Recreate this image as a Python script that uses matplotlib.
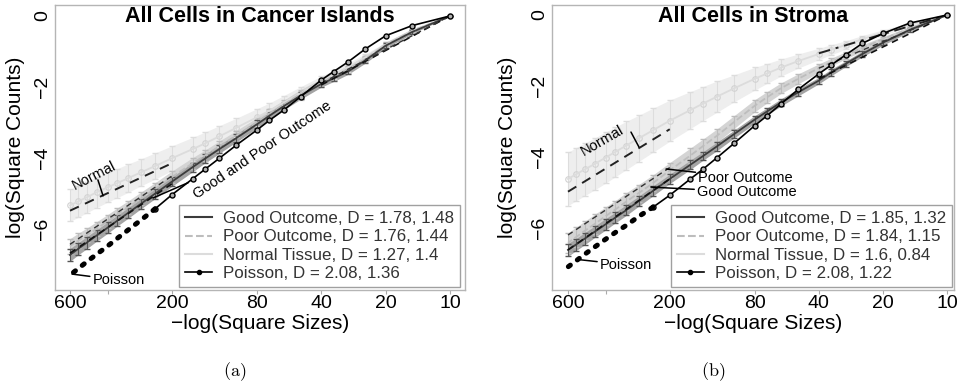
import matplotlib
matplotlib.use('Agg')
import numpy as np
import matplotlib.pyplot as plt
from matplotlib.lines import Line2D

plt.rcParams['font.family'] = ['Liberation Sans', 'DejaVu Sans']
plt.rcParams['mathtext.fontset'] = 'cm'

# square sizes (x axis is -log(size))
SIZES = [10, 15, 20, 25, 30, 35, 40, 50, 60, 70, 80, 100, 120, 140, 160,
         200, 240, 280, 320, 360, 400, 450, 500, 550, 600]
XTICKS = [600, 400, 200, 80, 40, 20, 10]
XTICK_LABELS = ['600', '', '200', '80', '40', '20', '10']
YTICKS = [0, -2, -4, -6]

# fitted ranges (large sizes, small sizes)
FIT_LEFT = [600, 200]
FIT_RIGHT = [40, 10]

# ---- (a) all cells in cancer islands ----
A_TITLE = 'All Cells in Cancer Islands'
A_POISSON = [0.0, -0.27, -0.56, -0.94, -1.30, -1.57, -1.81, -2.28, -2.66, -2.95, -3.22,
             -3.65, -4.02, -4.33, -4.60, -5.05, -5.45, -5.77, -6.04, -6.28, -6.50,
             -6.73, -6.94, -7.14, -7.32]
A_GOOD = [0.0, -0.45, -0.84, -1.26, -1.57, -1.76, -1.92, -2.25, -2.55, -2.82, -3.06,
          -3.45, -3.76, -4.03, -4.27, -4.68, -5.02, -5.31, -5.56, -5.78, -5.98,
          -6.20, -6.40, -6.58, -6.75]
A_GOOD_ERR = [0.0, 0.05, 0.07, 0.08, 0.08, 0.09, 0.09, 0.10, 0.10, 0.10, 0.11, 0.11,
              0.12, 0.12, 0.13, 0.13, 0.14, 0.14, 0.15, 0.15, 0.16, 0.16, 0.17, 0.17, 0.18]
A_POOR = [0.0, -0.42, -0.82, -1.22, -1.50, -1.70, -1.88, -2.20, -2.50, -2.76, -3.00,
          -3.38, -3.68, -3.94, -4.16, -4.55, -4.88, -5.16, -5.40, -5.61, -5.80,
          -6.01, -6.19, -6.35, -6.50]
A_POOR_ERR = [0.0, 0.06, 0.08, 0.09, 0.10, 0.10, 0.11, 0.12, 0.12, 0.13, 0.13, 0.14,
              0.15, 0.15, 0.16, 0.17, 0.17, 0.18, 0.18, 0.19, 0.19, 0.20, 0.20, 0.21, 0.21]
A_NORMAL = [0.0, -0.42, -0.82, -1.18, -1.45, -1.66, -1.85, -2.18, -2.45, -2.68, -2.86,
            -3.16, -3.40, -3.60, -3.76, -4.02, -4.24, -4.42, -4.58, -4.72, -4.84,
            -4.98, -5.12, -5.24, -5.35]
A_NORMAL_ERR = [0.0, 0.06, 0.08, 0.10, 0.12, 0.13, 0.15, 0.18, 0.20, 0.22, 0.24, 0.27,
                0.30, 0.32, 0.33, 0.35, 0.37, 0.38, 0.40, 0.41, 0.42, 0.43, 0.44, 0.45, 0.45]
A_NORMAL_FIT = [-5.50, -4.16]
A_GOOD_FIT = [-6.70, -4.74, -1.95, 0.0]
A_POOR_FIT = [-6.45, -4.52, -1.90, 0.0]
A_LEGEND = ['Good Outcome, D = 1.78, 1.48', 'Poor Outcome, D = 1.76, 1.44',
            'Normal Tissue, D = 1.27, 1.4', 'Poisson, D = 2.08, 1.36']

# ---- (b) all cells in stroma ----
B_TITLE = 'All Cells in Stroma'
B_POISSON = [0.0, -0.23, -0.52, -0.80, -1.13, -1.41, -1.66, -2.10, -2.50, -2.84, -3.12,
             -3.62, -4.02, -4.35, -4.62, -5.08, -5.42, -5.68, -5.93, -6.13, -6.32,
             -6.54, -6.74, -6.93, -7.10]
B_GOOD = [0.0, -0.42, -0.78, -1.10, -1.38, -1.62, -1.85, -2.18, -2.46, -2.72, -2.95,
          -3.36, -3.70, -3.98, -4.22, -4.62, -4.96, -5.25, -5.50, -5.71, -5.90,
          -6.11, -6.30, -6.47, -6.62]
B_GOOD_ERR = [0.0, 0.05, 0.07, 0.08, 0.08, 0.09, 0.09, 0.10, 0.10, 0.10, 0.11, 0.11,
              0.12, 0.12, 0.13, 0.13, 0.14, 0.14, 0.15, 0.15, 0.16, 0.16, 0.17, 0.17, 0.18]
B_POOR = [0.0, -0.38, -0.68, -0.93, -1.14, -1.33, -1.50, -1.80, -2.06, -2.32, -2.56,
          -3.02, -3.40, -3.70, -3.96, -4.38, -4.74, -5.02, -5.26, -5.48, -5.67,
          -5.89, -6.08, -6.26, -6.42]
B_POOR_ERR = [0.0, 0.05, 0.07, 0.09, 0.10, 0.11, 0.12, 0.14, 0.15, 0.16, 0.17, 0.18,
              0.19, 0.20, 0.21, 0.22, 0.23, 0.24, 0.25, 0.25, 0.26, 0.27, 0.27, 0.28, 0.28]
B_NORMAL = [0.0, -0.27, -0.50, -0.68, -0.85, -0.98, -1.10, -1.30, -1.48, -1.65, -1.80,
            -2.07, -2.30, -2.50, -2.68, -2.98, -3.25, -3.48, -3.68, -3.86, -4.02,
            -4.20, -4.35, -4.49, -4.62]
B_NORMAL_ERR = [0.0, 0.05, 0.08, 0.10, 0.12, 0.14, 0.16, 0.20, 0.24, 0.28, 0.32, 0.38,
                0.44, 0.48, 0.52, 0.58, 0.62, 0.65, 0.68, 0.70, 0.72, 0.73, 0.74, 0.75, 0.75]
B_NORMAL_FIT = [-4.98, -3.22, -1.08, 0.0]
B_GOOD_FIT = [-6.62, -4.62, -1.80, 0.0]
B_POOR_FIT = [-6.20, -4.30, -1.50, 0.0]
B_LEGEND = ['Good Outcome, D = 1.85, 1.32', 'Poor Outcome, D = 1.84, 1.15',
            'Normal Tissue, D = 1.6, 0.84', 'Poisson, D = 2.08, 1.22']

GOOD_C = '#3c3c3c'
POOR_C = '#bdbdbd'
NORMAL_C = '#dcdcdc'


def draw_series(ax, y, err, band, line, ls, capc):
    s = np.array(SIZES)
    y = np.array(y)
    e = np.array(err)
    ax.fill_between(s, y - e, y + e, color=band, lw=0, zorder=1)
    ax.errorbar(s, y, yerr=e, color=line, ls=ls, lw=1.3, ecolor=capc,
                elinewidth=0.8, capsize=2.5, zorder=2)


def draw_panel(ax, title, normal, normal_err, poor, poor_err, good, good_err,
               poisson, normal_fit, good_fit, poor_fit):
    s = np.array(SIZES)
    draw_series(ax, normal, normal_err, '#eeeeee', NORMAL_C, '-', '#dddddd')
    ax.plot(s, normal, 'o', ms=4, mfc='none', mec='#d2d2d2', mew=0.8, zorder=2)
    draw_series(ax, poor, poor_err, '#d4d4d4', POOR_C, '--', '#bcbcbc')
    draw_series(ax, good, good_err, '#a4a4a4', GOOD_C, '-', '#555555')

    # fitted lines
    ax.plot(FIT_LEFT, normal_fit[:2], color='#222222', lw=1.4, dashes=(5, 3.5), zorder=4)
    if len(normal_fit) > 2:
        ax.plot(FIT_RIGHT, normal_fit[2:], color='#222222', lw=1.4,
                dashes=(6, 3, 1.5, 3), zorder=4)
    ax.plot(FIT_LEFT, good_fit[:2], color='#111111', lw=1.2, dashes=(4, 3), zorder=4)
    ax.plot(FIT_RIGHT, good_fit[2:], color='#111111', lw=1.2, dashes=(4, 3), zorder=4)
    ax.plot(FIT_LEFT, poor_fit[:2], color='#333333', lw=1.0, dashes=(4, 3), zorder=4)
    ax.plot(FIT_RIGHT, poor_fit[2:], color='#333333', lw=1.0, dashes=(4, 3), zorder=4)

    # poisson reference: line with circles, heavy blobs at large sizes
    p = np.array(poisson)
    big = s >= 240
    small = s <= 240
    ax.plot(s[small], p[small], color='k', lw=1.2, zorder=5)
    ax.plot(s[small], p[small], 'o', ms=3.6, mfc='#b0b0b0', mec='k', mew=1.0, zorder=6)
    ax.plot(s[big], p[big], color='k', lw=3.6, dashes=(0.5, 1.74),
            dash_capstyle='round', zorder=6)

    ax.set_xscale('log')
    ax.set_xticks(XTICKS)
    ax.set_xticklabels(XTICK_LABELS)
    ax.minorticks_off()
    ax.set_yticks(YTICKS)
    ax.set_yticklabels([str(v).replace('-', '\u2212') for v in YTICKS],
                       rotation=90, va='center')
    ax.tick_params(axis='x', length=3, color='#aaaaaa', labelsize=14, pad=0.5)
    ax.tick_params(axis='y', length=0, labelsize=14, pad=3)
    for sp in ax.spines.values():
        sp.set_color('#b5b5b5')
        sp.set_linewidth(1)

    ax.set_xlabel('\u2212log(Square Sizes)', fontsize=15)
    ax.set_ylabel('log(Square Counts)', fontsize=15)
    ax.text(0.5, 0.958, title, transform=ax.transAxes, ha='center', va='center',
            fontsize=15.5, fontweight='bold', zorder=10)

    return [Line2D([], [], color=GOOD_C, lw=1.5),
            Line2D([], [], color=POOR_C, lw=1.5, ls='--'),
            Line2D([], [], color=NORMAL_C, lw=1.5),
            Line2D([], [], color='k', lw=1.2, marker='o', ms=3)]


def add_legend(ax, handles, labels, xanchor):
    leg = ax.legend(handles, labels, loc='lower right', bbox_to_anchor=(xanchor, 0.01),
                    borderaxespad=0, fontsize=12.2, handlelength=1.6,
                    handletextpad=0.65, labelspacing=0.2, borderpad=0.35,
                    fancybox=False, framealpha=1, edgecolor='#a0a0a0')
    leg.set_zorder(20)
    for t in leg.get_texts():
        t.set_color('#333333')


fig = plt.figure(figsize=(9.64, 3.86), dpi=100)
ax1 = fig.add_axes([55 / 964, 1 - 290 / 386, 410 / 964, 285 / 386])
ax2 = fig.add_axes([552 / 964, 1 - 290 / 386, 402 / 964, 285 / 386])

h = draw_panel(ax1, A_TITLE, A_NORMAL, A_NORMAL_ERR, A_POOR, A_POOR_ERR, A_GOOD,
               A_GOOD_ERR, A_POISSON, A_NORMAL_FIT, A_GOOD_FIT, A_POOR_FIT)
ax1.set_xlim(705, 8.5)
ax1.set_ylim(-7.74, 0.31)
add_legend(ax1, h, A_LEGEND, 0.988)
ax1.yaxis.set_label_coords(-0.073, 0.5)
ax1.xaxis.set_label_coords(0.5, -0.083)

h = draw_panel(ax2, B_TITLE, B_NORMAL, B_NORMAL_ERR, B_POOR, B_POOR_ERR, B_GOOD,
               B_GOOD_ERR, B_POISSON, B_NORMAL_FIT, B_GOOD_FIT, B_POOR_FIT)
ax2.set_xlim(713, 9.3)
ax2.set_ylim(-7.75, 0.28)
add_legend(ax2, h, B_LEGEND, 0.995)
ax2.yaxis.set_label_coords(-0.087, 0.5)
ax2.xaxis.set_label_coords(0.5, -0.083)

# annotations
arrow = dict(arrowstyle='-', color='k', lw=1.1, shrinkA=0, shrinkB=0)
ax1.annotate('', xy=(420, -5.08), xytext=(444, -4.63), arrowprops=arrow, zorder=12)
ax1.text(463, -4.52, 'Normal', fontsize=10.5, rotation=27, ha='center', va='center',
         zorder=12)
ax1.annotate('Good and Poor Outcome', xy=(245, -5.14), xytext=(156, -5.08),
             fontsize=10.5, rotation=34, rotation_mode='anchor', ha='left',
             va='center', arrowprops=arrow, zorder=12)
ax1.annotate('Poisson', xy=(587, -7.29), xytext=(470, -7.46), fontsize=10.5,
             ha='left', va='center', arrowprops=arrow, zorder=12)

ax2.annotate('', xy=(279, -3.72), xytext=(304, -3.30), arrowprops=arrow, zorder=12)
ax2.text(415, -3.55, 'Normal', fontsize=10.5, rotation=30, ha='center', va='center',
         zorder=12)
ax2.annotate('Poor Outcome', xy=(208, -4.34), xytext=(147, -4.59), fontsize=10.5,
             ha='left', va='center', arrowprops=arrow, zorder=12)
ax2.annotate('Good Outcome', xy=(245, -4.85), xytext=(149, -4.99), fontsize=10.5,
             ha='left', va='center', arrowprops=arrow, zorder=12)
ax2.annotate('Poisson', xy=(522, -6.90), xytext=(425, -7.04), fontsize=10.5,
             ha='left', va='center', arrowprops=arrow, zorder=12)

fig.text(235 / 964, 1 - 372 / 386, r'$\mathrm{(a)}$', ha='center', va='center', fontsize=13)
fig.text(713 / 964, 1 - 372 / 386, r'$\mathrm{(b)}$', ha='center', va='center', fontsize=13)

fig.savefig('out.png', dpi=100)
